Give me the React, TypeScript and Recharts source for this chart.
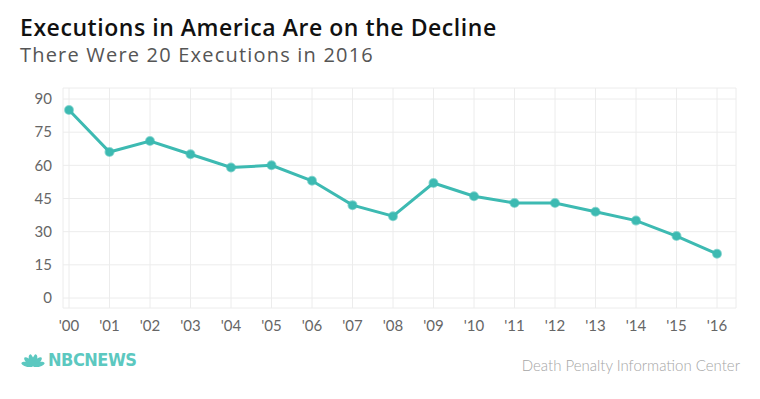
import React from 'react';
import { LineChart, Line, XAxis, YAxis, CartesianGrid } from 'recharts';

const years = ["'00", "'01", "'02", "'03", "'04", "'05", "'06", "'07", "'08", "'09", "'10", "'11", "'12", "'13", "'14", "'15", "'16"];
const executions = [85, 66, 71, 65, 59, 60, 53, 42, 37, 52, 46, 43, 43, 39, 35, 28, 20];
const yTicks = [0, 15, 30, 45, 60, 75, 90];

const TEAL = '#3dbab2';

const chartData = years.map((year, i) => ({ year, value: executions[i] }));

// little peacock mark for the logo
const Peacock = () => {
  const angles = [-75, -45, -15, 15, 45, 75];
  return (
    <svg width={26} height={14} viewBox="0 0 26 14">
      {angles.map((a, i) => (
        <ellipse
          key={i}
          cx={13}
          cy={7}
          rx={2.4}
          ry={6}
          fill="#5cc8c0"
          transform={`rotate(${a} 13 13)`}
        />
      ))}
    </svg>
  );
};

const App: React.FC = () => {
  return (
    <div
      style={{
        position: 'relative',
        width: 760,
        height: 399,
        margin: -8,
        background: '#fff',
        overflow: 'hidden',
        fontFamily: 'Lato, sans-serif',
      }}
    >
      <div
        style={{
          position: 'absolute',
          left: 20,
          top: 12,
          fontFamily: '"Open Sans", sans-serif',
          fontSize: 23,
          fontWeight: 600,
          letterSpacing: 0.55,
          color: '#111',
          lineHeight: '30px',
        }}
      >
        Executions in America Are on the Decline
      </div>
      <div
        style={{
          position: 'absolute',
          left: 20,
          top: 42,
          fontFamily: '"Open Sans", sans-serif',
          fontSize: 20,
          letterSpacing: 1.2,
          color: '#555',
          lineHeight: '26px',
        }}
      >
        There Were 20 Executions in 2016
      </div>

      <div style={{ position: 'absolute', left: 0, top: 0 }}>
        <LineChart
          width={760}
          height={399}
          data={chartData}
          margin={{ top: 88, right: 24, left: 0, bottom: 61 }}
        >
          <CartesianGrid stroke="#ececec" strokeWidth={1} />
          <XAxis
            dataKey="year"
            padding={{ left: 6, right: 19 }}
            axisLine={false}
            tickLine={false}
            tickMargin={6}
            interval={0}
            tick={{ fontSize: 15, fill: '#666', fontFamily: 'Lato, sans-serif' }}
          />
          <YAxis
            type="number"
            domain={[0, 90]}
            ticks={yTicks}
            width={63}
            padding={{ top: 11, bottom: 10 }}
            axisLine={false}
            tickLine={false}
            tickMargin={5}
            tick={{ fontSize: 15, fill: '#666', fontFamily: 'Lato, sans-serif' }}
          />
          <Line
            type="linear"
            dataKey="value"
            stroke={TEAL}
            strokeWidth={3}
            dot={{ r: 4, fill: TEAL, stroke: TEAL, strokeOpacity: 0.6, strokeWidth: 2 }}
            isAnimationActive={false}
          />
        </LineChart>
      </div>

      <div style={{ position: 'absolute', left: 20, top: 352, display: 'flex', alignItems: 'flex-end' }}>
        <Peacock />
        <span
          style={{
            marginLeft: 2,
            fontFamily: '"Liberation Sans Narrow", "DejaVu Sans Condensed", sans-serif',
            fontWeight: 700,
            fontSize: 18,
            color: '#5cc8c0',
            lineHeight: '15px',
            letterSpacing: -0.5,
          }}
        >
          NBCNEWS
        </span>
      </div>
      <div
        style={{
          position: 'absolute',
          right: 20,
          top: 356,
          fontSize: 15,
          fontWeight: 300,
          color: '#a6a6a6',
          lineHeight: '18px',
        }}
      >
        Death Penalty Information Center
      </div>
    </div>
  );
};

export default App;
